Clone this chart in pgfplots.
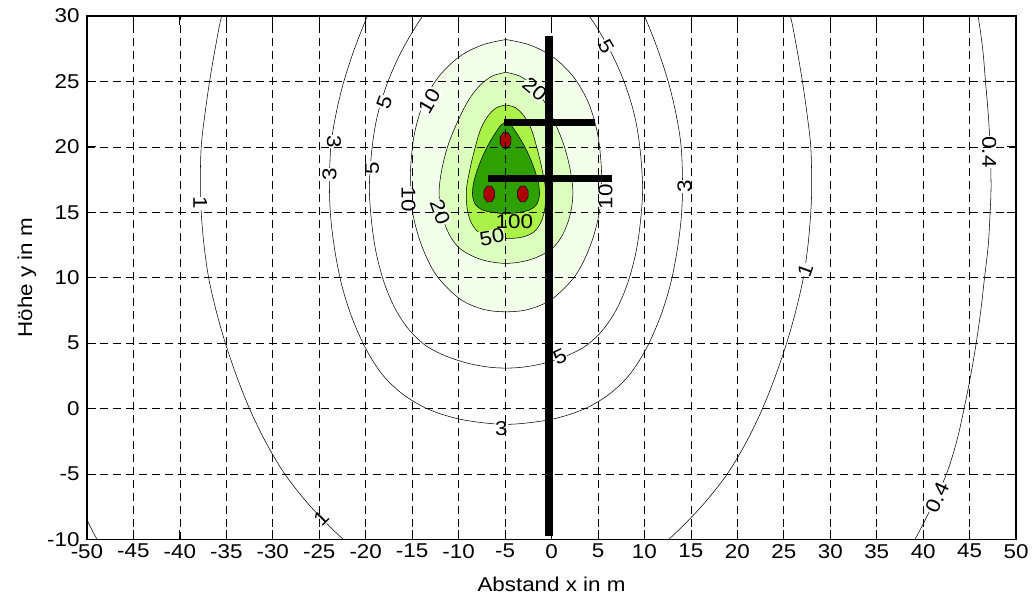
\documentclass[border=0pt]{standalone}
\usepackage{fontspec}
\setmainfont[FakeStretch=1.12]{Liberation Sans}
\usepackage{pgfplots}
\pgfplotsset{compat=1.18}
\definecolor{cA}{RGB}{242,255,234}
\definecolor{cB}{RGB}{220,255,192}
\definecolor{cC}{RGB}{170,242,72}
\definecolor{cD}{RGB}{46,160,0}
\definecolor{cRed}{RGB}{175,0,0}
\newcommand{\fs}{\fontsize{15}{18}\selectfont}
\begin{document}
\begin{tikzpicture}[lab/.style={font=\fs, inner sep=0.3pt}]
\begin{axis}[
  scale only axis, width=697.5pt, height=393pt,
  xmin=-50, xmax=50, ymin=-10, ymax=30,
  xtick={-50,-45,...,50}, ytick={-10,-5,...,30},
  grid=major,
  major grid style={black, line width=0.5pt, dash pattern=on 6pt off 3.75pt},
  axis on top,
  axis line style={line width=1pt},
  tick style={black, line width=0.6pt},
  major tick length=7pt,
  tick align=inside,
  tick label style={font=\fs},
  yticklabel style={xshift=-2pt},
  label style={font=\fs},
  /pgf/number format/assume math mode=true,
  xlabel={Abstand x in m}, ylabel={Höhe y in m},
  xlabel style={at={(axis description cs:0.5,-0.0859)}, anchor=center},
  ylabel style={at={(axis description cs:-0.0645,0.5)}, anchor=center},
]
% filled contour regions
\addplot[draw=black, line width=0.4pt, fill=cA, smooth, tension=0.55] coordinates {
(-4.9,28.2) (-7.4,27.8) (-9.9,26.9) (-12.1,25.4) (-13.7,23.5) (-14.6,21.5) (-15.0,19.8) (-15.2,17.5) (-14.95,15) (-14.0,12.5) (-12.4,10.2) (-9.9,8.4) (-7.4,7.6) (-4.9,7.4) (-2.4,7.6) (0.1,8.4) (2.6,10.2) (4.2,12.5) (5.15,15) (5.4,17.5) (5.2,19.8) (4.8,21.5) (3.9,23.5) (2.3,25.4) (0.1,26.9) (-2.4,27.8) (-4.9,28.2)} --cycle;
\addplot[draw=black, line width=0.4pt, fill=cB, smooth, tension=0.55] coordinates {
(-4.9,25.7) (-6.4,25.4) (-7.7,24.7) (-8.9,23.6) (-10.0,22.1) (-11.1,20.2) (-11.8,18.3) (-12.1,16.5) (-11.8,14.8) (-11.0,13.3) (-9.8,12.2) (-7.6,11.4) (-4.9,11.1) (-2.2,11.4) (0.0,12.2) (1.2,13.3) (2.0,14.8) (2.3,16.5) (2.0,18.3) (1.3,20.2) (0.2,22.1) (-0.9,23.6) (-2.1,24.7) (-3.4,25.4) (-4.9,25.7)} --cycle;
\addplot[draw=black, line width=0.4pt, fill=cC, smooth, tension=0.55] coordinates {
(-4.9,23.2) (-5.9,23.0) (-6.8,22.4) (-7.6,21.4) (-8.2,20) (-8.75,18.4) (-9.15,16.8) (-9.1,15.4) (-8.7,14.3) (-7.9,13.5) (-6.6,13.1) (-4.9,13.0) (-3.2,13.1) (-1.9,13.5) (-1.1,14.3) (-0.7,15.4) (-0.65,16.8) (-1.05,18.4) (-1.6,20) (-2.2,21.4) (-3.0,22.4) (-3.9,23.0) (-4.9,23.2)} --cycle;
\addplot[draw=black, line width=0.4pt, fill=cD, smooth, tension=0.5] coordinates {
(-4.9,21.85) (-5.4,21.7) (-6.0,21.1) (-6.7,20.3) (-7.4,19.3) (-8.0,18.2) (-8.4,17.2) (-8.5,16.3) (-8.2,15.6) (-7.5,15.2) (-6.4,15.0) (-4.9,14.9) (-3.4,15.0) (-2.3,15.2) (-1.6,15.6) (-1.3,16.3) (-1.4,17.2) (-1.8,18.2) (-2.4,19.3) (-3.1,20.3) (-3.8,21.1) (-4.4,21.7) (-4.9,21.85)} --cycle;
% open contour lines
\addplot[black, line width=0.4pt, smooth, tension=0.55] coordinates {
(-18.4,32) (-19.8,30) (-21.2,27.5) (-22.35,25) (-23.2,22.5) (-23.75,20) (-23.9,17) (-23.75,14.5) (-23.3,12) (-22.6,9.5) (-21.5,7) (-20.0,4.6) (-18.2,2.6) (-16.0,1.1) (-13.4,0.0) (-10.5,-0.7) (-7.7,-1.05) (-4.9,-1.2) (-2.1,-1.05) (0.7,-0.7) (3.6,0.0) (6.2,1.1) (8.4,2.6) (10.2,4.6) (11.7,7) (12.8,9.5) (13.5,12) (13.95,14.5) (14.1,17) (13.95,20) (13.4,22.5) (12.55,25) (11.4,27.5) (10.0,30) (8.6,32)};
\addplot[black, line width=0.4pt, smooth, tension=0.55] coordinates {
(-11.4,32) (-13.85,30) (-16.0,27.5) (-17.6,25) (-18.7,22.5) (-19.3,20) (-19.6,17) (-19.4,14.5) (-18.9,12) (-18.0,9.6) (-16.8,7.6) (-15.3,6.0) (-13.5,4.8) (-11.3,4.0) (-8.9,3.45) (-6.7,3.17) (-4.9,3.1) (-3.1,3.17) (-0.9,3.45) (1.5,4.0) (3.7,4.8) (5.5,6.0) (7.0,7.6) (8.2,9.6) (9.1,12) (9.6,14.5) (9.8,17) (9.5,20) (8.9,22.5) (7.8,25) (6.2,27.5) (4.05,30) (1.6,32)};
\addplot[black, line width=0.4pt, smooth, tension=0.55] coordinates {
(-34.5,32) (-35.5,30) (-36.2,27.5) (-36.8,25) (-37.3,22.5) (-37.7,20) (-37.8,17) (-37.7,15) (-37.4,12.5) (-36.9,10) (-36.1,7.5) (-35.1,5) (-33.9,2.5) (-32.5,0) (-30.8,-2.5) (-28.7,-5) (-25.9,-7.5) (-22.4,-10) (-19.7,-11.5)};
\addplot[black, line width=0.4pt, smooth, tension=0.55] coordinates {
(9.9,-11.5) (12.6,-10) (16.1,-7.5) (18.9,-5) (21.0,-2.5) (22.7,0) (24.1,2.5) (25.3,5) (26.3,7.5) (27.1,10) (27.6,12.5) (27.9,15) (28.0,17) (27.9,20) (27.5,22.5) (27.0,25) (26.4,27.5) (25.7,30) (24.7,32)};
\addplot[black, line width=0.4pt, smooth, tension=0.55] coordinates {
(37.6,-11.5) (39.1,-10) (40.9,-7.5) (42.5,-5) (43.6,-2.5) (44.4,0) (45.1,2.5) (45.7,5) (46.2,7.5) (46.6,10) (47.0,12.5) (47.2,15) (47.3,17) (47.2,20) (47.0,22.5) (46.7,25) (46.4,27.5) (45.9,30) (45.3,32)};
\addplot[black, line width=0.4pt, smooth, tension=0.55] coordinates {
(-52.5,-5) (-50.7,-7.5) (-48.9,-10) (-47.4,-11.5)};
% contour labels
\node[lab, fill=white, rotate=-90] at (axis cs:-37.8,15.7) {1};
\node[lab, fill=white, rotate=45] at (axis cs:-24.8,-8.4) {1};
\node[lab, fill=white, rotate=70] at (axis cs:27.3,10.6) {1};
\node[lab, fill=white, rotate=-90] at (axis cs:47.1,19.6) {0.4};
\node[lab, fill=white, rotate=65] at (axis cs:41.5,-6.8) {0.4};
\node[lab, fill=white, rotate=-90] at (axis cs:-23.4,20.4) {3};
\node[lab, fill=white, rotate=90] at (axis cs:-23.9,17.9) {3};
\node[lab, fill=white, rotate=90] at (axis cs:14.3,17.0) {3};
\node[lab, fill=white] at (axis cs:-5.4,-1.5) {3};
\node[lab, fill=white, rotate=70] at (axis cs:-18.0,23.4) {5};
\node[lab, fill=white, rotate=90] at (axis cs:-19.3,18.4) {5};
\node[lab, fill=white, rotate=25] at (axis cs:0.9,4.0) {5};
\node[lab, fill=white, rotate=-60] at (axis cs:5.9,27.7) {5};
\node[lab, fill=white, rotate=60] at (axis cs:-13.1,23.5) {10};
\node[lab, fill=white, rotate=-90] at (axis cs:-15.4,16.0) {10};
\node[lab, fill=white, rotate=90] at (axis cs:5.8,16.2) {10};
\node[lab, fill=cA, rotate=-40] at (axis cs:-1.8,24.4) {20};
\node[lab, fill=cA, rotate=-70] at (axis cs:-12.0,15.0) {20};
\node[lab, fill=cB, rotate=10] at (axis cs:-6.4,13.1) {50};
\node[lab] at (axis cs:-4.0,14.3) {100};
% tower structure
\addplot[black, line width=6pt] coordinates {(-0.3,-9.7) (-0.3,28.5)};
\addplot[black, line width=5pt] coordinates {(-5.1,21.86) (4.7,21.86)};
\addplot[black, line width=5pt] coordinates {(-6.8,17.58) (6.5,17.58)};
% conductors
\addplot[draw=black, line width=0.4pt, fill=cRed] coordinates {(-4.38,20.75) (-4.71,21.10) (-5.19,21.10) (-5.52,20.75) (-5.52,20.25) (-5.19,19.90) (-4.71,19.90) (-4.38,20.25)} --cycle;
\addplot[draw=black, line width=0.4pt, fill=cRed] coordinates {(-6.13,16.65) (-6.46,17.00) (-6.94,17.00) (-7.27,16.65) (-7.27,16.15) (-6.94,15.80) (-6.46,15.80) (-6.13,16.15)} --cycle;
\addplot[draw=black, line width=0.4pt, fill=cRed] coordinates {(-2.53,16.65) (-2.86,17.00) (-3.34,17.00) (-3.67,16.65) (-3.67,16.15) (-3.34,15.80) (-2.86,15.80) (-2.53,16.15)} --cycle;
\end{axis}
\path ([shift={(-65.25pt,-45.75pt)}]current axis.south west) rectangle ([shift={(12pt,12pt)}]current axis.north east);
\end{tikzpicture}
\end{document}
